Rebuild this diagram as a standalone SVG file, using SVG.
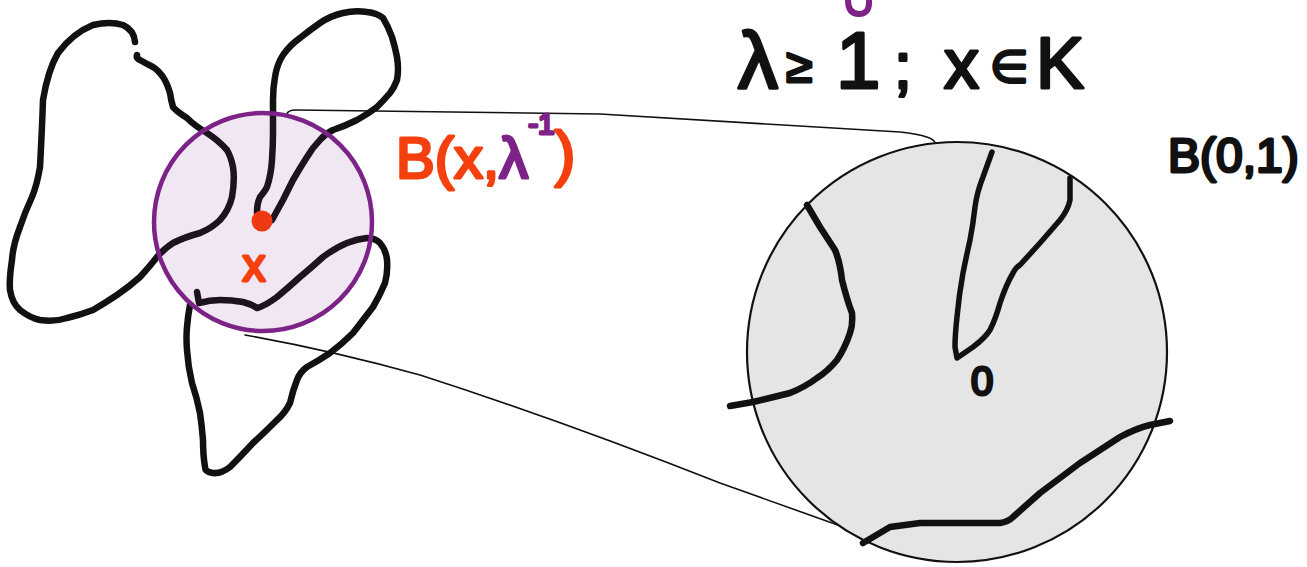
<svg xmlns="http://www.w3.org/2000/svg" width="1307" height="567" viewBox="0 0 1307 567">
<style>
.ink{fill:none;stroke:#111;stroke-width:6.5;stroke-linecap:round;stroke-linejoin:round}
.ink2{fill:none;stroke:#111;stroke-width:5.5;stroke-linecap:round;stroke-linejoin:round}
.thin{fill:none;stroke:#111;stroke-width:1.6;stroke-linecap:round}
.hw{font-family:"Liberation Sans",Arial,sans-serif;stroke-linejoin:round;stroke-linecap:round}
.blk{fill:#111;stroke:#111;stroke-width:3}
.org{fill:#f4400e;stroke:#f4400e;stroke-width:3}
.pur{fill:#7d2388;stroke:#7d2388;stroke-width:3}
</style>
<rect width="1307" height="567" fill="#fff"/>

<g id="connectors">
<path class="thin" d="M287,114 Q288,110 296,110 L600,114 L900,132 Q936,136 935,144"/>
<path class="thin" d="M245,335 Q330,350 420,375 Q560,420 720,483 L905,549"/>
</g>

<g id="big-disc">
<circle cx="957" cy="352" r="210" fill="#e5e5e5" stroke="#111" stroke-width="2.2"/>
<path class="ink" d="M807,205 L820,227 L835,250 Q840,262 842,280 Q847,300 852,313 Q853,325 850,333 Q845,348 837,360 Q828,371 817,378 Q805,387 790,393 Q770,398 753,402 L730,406"/>
<path class="ink2" d="M992,152 L983,177 Q977,192 975,207 Q973,225 970,240 Q966,258 963,273 Q959,295 957,317 Q955,335 955,347 L957,358 L973,347 Q985,338 990,330 Q996,318 1000,303 Q1006,285 1013,273 Q1016,267 1020,265 L1040,243 L1060,220 Q1068,210 1070,200 L1070,178"/>
<path class="ink" d="M863,543 L890,527 L920,523 L1000,523 Q1008,522 1013,517 L1040,493 L1080,463 L1120,437 Q1137,428 1150,425 L1170,421"/>
<text class="hw blk" x="982" y="395" font-size="40" stroke-width="0.3" text-anchor="middle">0</text>
</g>

<g id="shape-K">
<path class="ink" d="M135,42 Q134,30 123,25 Q110,21 93,25 Q73,33 58,53 Q48,70 43,100 Q42,130 40,167 Q37,185 32,197 Q25,212 20,227 Q13,245 12,260 Q9,280 10,290 Q12,303 20,310 Q30,318 40,320 Q55,322 67,318 Q80,315 93,310 Q105,303 117,295 Q130,286 140,277 Q150,266 157,257 Q165,248 173,243 Q185,237 200,233 Q212,228 220,220 Q229,210 232,197 Q235,180 233,167 Q231,157 227,150 Q218,140 207,133 Q195,126 187,118 Q176,111 173,107 Q171,100 170,93 Q167,83 163,77 Q158,70 153,67 Q145,63 140,60 Q136,58 137,55"/>
<path class="ink" d="M257,213 Q257,203 260,197 Q265,191 267,187 Q271,175 272,160 Q273,145 273,133 Q273,115 273,100 Q273,88 275,77 Q277,64 283,55 Q290,45 300,38 Q310,30 320,23 Q330,16 343,13 Q355,10 367,12 Q377,13 383,18 Q388,26 392,37 Q395,47 397,57 Q399,70 397,80 Q394,88 390,93 Q384,100 377,107 Q368,114 357,120 Q345,126 333,130 Q325,134 320,140 Q313,147 307,157 Q300,168 293,180 Q288,190 283,200 L272,220"/>
<path class="ink" d="M197,292 L199,303 Q210,300 220,300 Q232,300 243,302 Q251,304 257,308 Q265,306 277,297 Q289,287 300,277 Q312,267 323,257 Q335,248 347,243 Q357,239 367,238 Q375,238 380,243 Q386,250 387,260 Q388,272 385,283 Q380,295 373,307 Q363,320 353,333 Q342,344 330,353 Q318,361 307,367 Q300,372 297,380 Q293,390 290,403 Q285,413 277,420 Q265,432 253,443 Q240,457 230,467 Q221,474 213,473 Q205,472 205,467 Q203,455 203,440 Q202,427 200,413 Q197,398 192,383 Q188,366 187,350 Q186,338 187,327 Q188,315 190,305"/>
</g>

<g id="small-disc">
<circle cx="263" cy="222" r="109" fill="#7d2388" fill-opacity="0.11" stroke="#7d2388" stroke-width="4.5"/>
<circle cx="262" cy="221" r="10.5" fill="#ee3a14"/>
<text class="hw org" x="254" y="281" font-size="46" stroke-width="2.5" text-anchor="middle">x</text>
</g>

<g id="labels">
<path d="M848,0 Q848,14 859,14 Q870,14 869,0" fill="none" stroke="#7d2388" stroke-width="6" stroke-linecap="round"/>
<text class="hw blk" y="88" font-size="80" stroke-width="3">
<tspan x="738">λ</tspan><tspan x="786" font-size="48" dy="-6">≥</tspan><tspan x="836" dy="6">1</tspan><tspan x="894" font-size="64">;</tspan><tspan x="944" font-size="70">x</tspan><tspan x="990" font-size="44" dy="-6">∈</tspan><tspan x="1036" font-size="72" dy="6">K</tspan>
</text>
<text class="hw" y="178" font-size="58">
<tspan class="org" x="396">B(x,</tspan><tspan class="pur">λ</tspan><tspan class="pur" font-size="30" dy="-44">-1</tspan><tspan class="org" font-size="62" dy="40">)</tspan>
</text>
<text class="hw blk" x="1168" y="172" font-size="48" stroke-width="0.8">B(0,1)</text>
</g>
</svg>
